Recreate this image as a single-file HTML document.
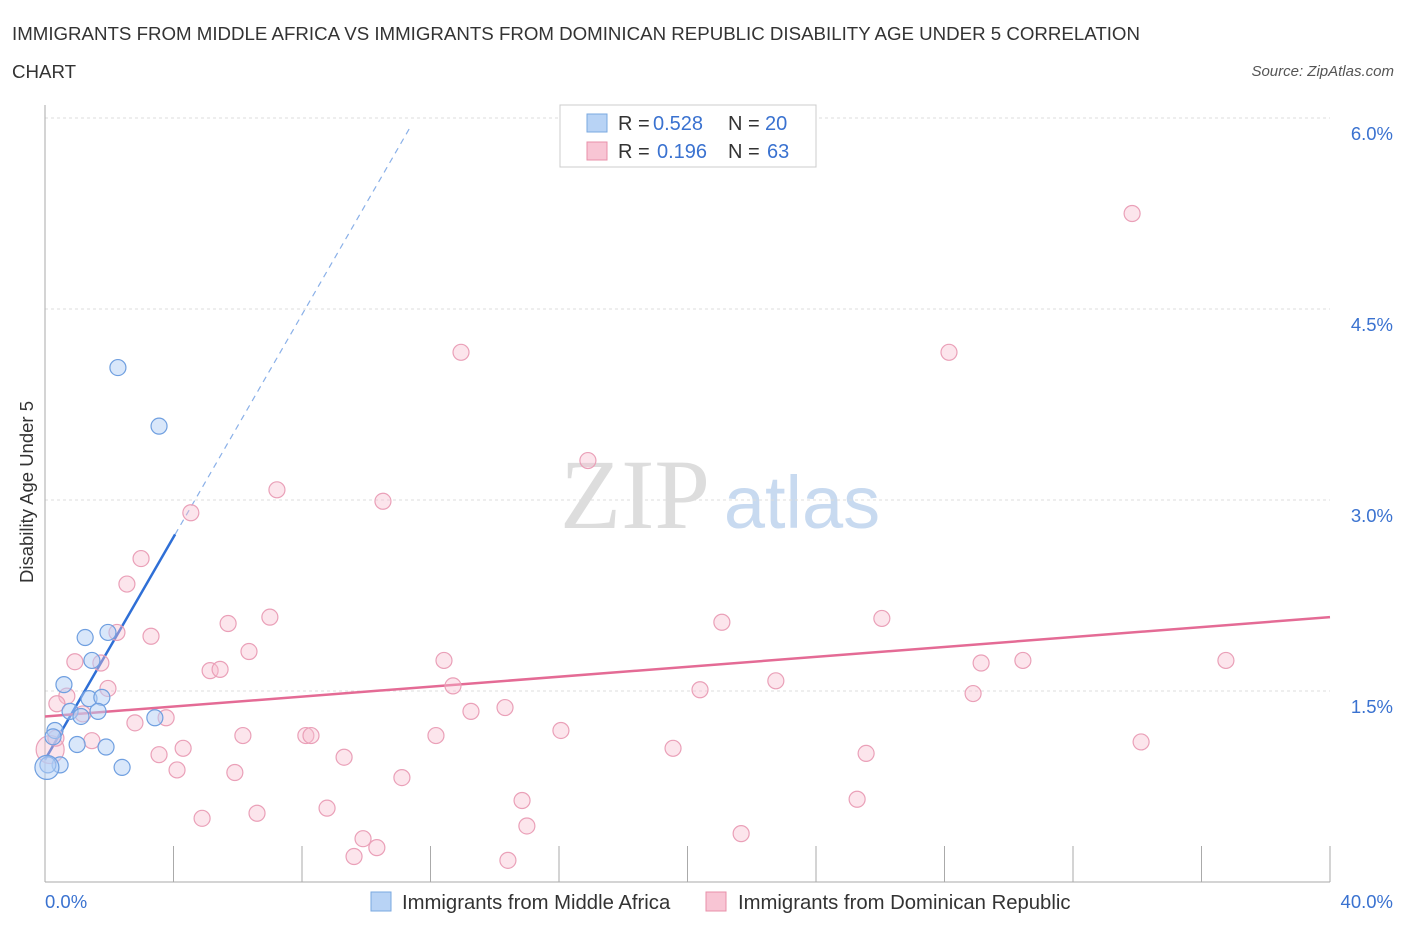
<!DOCTYPE html>
<html><head><meta charset="utf-8"><style>
body{margin:0;background:#fff;font-family:"Liberation Sans",sans-serif;}
svg text{font-family:"Liberation Sans",sans-serif;}
</style></head><body>
<svg id="chart" width="1406" height="930" xmlns="http://www.w3.org/2000/svg">
<text x="12" y="40" font-size="18.7" fill="#333">IMMIGRANTS FROM MIDDLE AFRICA VS IMMIGRANTS FROM DOMINICAN REPUBLIC DISABILITY AGE UNDER 5 CORRELATION</text>
<text x="12" y="78" font-size="18.7" fill="#333">CHART</text>
<text x="1394" y="76" font-size="15" fill="#555" font-style="italic" text-anchor="end">Source: ZipAtlas.com</text>
<text x="635" y="528" font-size="100" fill="#ddd" style="font-family:'Liberation Serif',serif" text-anchor="middle">ZIP</text>
<text x="802" y="528" font-size="74" fill="#c8daf0" text-anchor="middle">atlas</text>
<text transform="translate(33,492) rotate(-90)" font-size="18.5" fill="#333" text-anchor="middle">Disability Age Under 5</text>
<g id="grid"></g><g id="axes"></g><g id="lines"></g><g id="pts"></g>
<g>
<rect x="560" y="105" width="256" height="62" fill="#fff" stroke="#ccc"/>
<rect x="587" y="114" width="20" height="18" fill="#b8d3f5" stroke="#7aa8e0"/>
<text x="618" y="130" font-size="20" fill="#333">R = </text><text x="653" y="130" font-size="20" fill="#3a72d0">0.528</text>
<text x="728" y="130" font-size="20" fill="#333">N = </text><text x="765" y="130" font-size="20" fill="#3a72d0">20</text>
<rect x="587" y="142" width="20" height="18" fill="#f8c5d4" stroke="#e890aa"/>
<text x="618" y="158" font-size="20" fill="#333">R = </text><text x="657" y="158" font-size="20" fill="#3a72d0">0.196</text>
<text x="728" y="158" font-size="20" fill="#333">N = </text><text x="767" y="158" font-size="20" fill="#3a72d0">63</text>
</g>
<g>
<rect x="371" y="892" width="20" height="19" fill="#b8d3f5" stroke="#7aa8e0"/>
<text x="402" y="909" font-size="20.3" fill="#333">Immigrants from Middle Africa</text>
<rect x="706" y="892" width="20" height="19" fill="#f8c5d4" stroke="#e890aa"/>
<text x="738" y="909" font-size="20.3" fill="#333">Immigrants from Dominican Republic</text>
</g>
</svg>
<script>
const yTicks=[1.5,3.0,4.5,6.0];
const xTickLabels=["0.0%","40.0%"];
const blueX=[2.27,3.55,1.25,1.96,1.46,0.59,1.37,1.77,0.78,1.12,1.65,3.42,0.31,0.25,1.0,1.90,0.47,2.40,0.09,0.06];
const blueY=[4.04,3.58,1.92,1.96,1.74,1.55,1.44,1.45,1.34,1.30,1.34,1.29,1.19,1.14,1.08,1.06,0.92,0.90,0.92,0.90];
const pinkX=[33.84,12.95,28.14,16.90,7.22,10.52,4.54,2.99,2.55,21.07,26.05,7.00,5.70,2.24,3.30,6.35,0.93,1.74,12.42,29.14,30.44,36.76,5.14,5.45,1.96,0.68,12.70,20.39,22.75,28.89,0.37,1.18,3.77,13.26,14.32,2.80,16.06,6.16,8.12,8.28,12.17,1.46,34.12,4.30,3.55,19.55,25.56,9.31,4.11,5.91,11.11,8.78,14.85,25.28,4.89,6.60,15.00,21.67,9.90,10.33,9.62,14.41,0.16,0.34];
const pinkY=[5.25,4.16,4.16,3.31,3.08,2.99,2.90,2.54,2.34,2.04,2.07,2.08,2.03,1.96,1.93,1.81,1.73,1.72,1.74,1.72,1.74,1.74,1.66,1.67,1.52,1.46,1.54,1.51,1.58,1.48,1.40,1.32,1.29,1.34,1.37,1.25,1.19,1.15,1.15,1.15,1.15,1.11,1.10,1.05,1.00,1.05,1.01,0.98,0.88,0.86,0.82,0.58,0.64,0.65,0.50,0.54,0.44,0.38,0.34,0.27,0.20,0.17,1.04,1.13];
const blueTrend=[0.96,0.437]; // intercept, slope
const pinkTrend=[1.30,0.0195];
const NS="http://www.w3.org/2000/svg";
const X=v=>45+v*32.125, Y=v=>882-v*127.33;
function mk(p,t,a){const e=document.createElementNS(NS,t);for(const k in a)e.setAttribute(k,a[k]);document.getElementById(p).appendChild(e);return e;}
yTicks.forEach(t=>{const l=mk('grid','line',{x1:45,x2:1330,y1:Y(t),y2:Y(t),stroke:'#ddd','stroke-dasharray':'3,3'});


const tx=mk('grid','text',{x:1393,y:Y(t)+22,'font-size':18.5,fill:'#3a72d0','text-anchor':'end'});tx.textContent=t.toFixed(1)+'%';

});
const ax=mk('axes','line',{x1:45,x2:45,y1:105,y2:882,stroke:'#aaa'});


const bx=mk('axes','line',{x1:45,x2:1330,y1:882,y2:882,stroke:'#aaa'});


for(let i=1;i<=10;i++){const t=mk('axes','line',{x1:X(i*4),x2:X(i*4),y1:846,y2:882,stroke:'#aaa'});

}
[[0,'start',45],[1,'end',1393]].forEach(([i,a,x])=>{const t=mk('axes','text',{x:x,y:908,'font-size':18.5,fill:'#3a72d0','text-anchor':a});t.textContent=xTickLabels[i];

});
const bl=mk('lines','line',{x1:X(0),y1:Y(blueTrend[0]),x2:X(4.05),y2:Y(blueTrend[0]+blueTrend[1]*4.05),stroke:'#2f6fd6','stroke-width':2.5});


const bd=mk('lines','line',{x1:X(4.05),y1:Y(blueTrend[0]+blueTrend[1]*4.05),x2:X(11.4),y2:Y(blueTrend[0]+blueTrend[1]*11.4),stroke:'#8ab0e8','stroke-width':1.2,'stroke-dasharray':'6,5'});


const pl=mk('lines','line',{x1:X(0),y1:Y(pinkTrend[0]),x2:X(40),y2:Y(pinkTrend[0]+pinkTrend[1]*40),stroke:'#e46b95','stroke-width':2.5});


pinkX.forEach((x,i)=>{const c=mk('pts','circle',{cx:X(x),cy:Y(pinkY[i]),r:i==62?14:8,fill:'rgba(248,190,208,0.4)',stroke:'#eaa0b8','stroke-width':1.2});

});
blueX.forEach((x,i)=>{const c=mk('pts','circle',{cx:X(x),cy:Y(blueY[i]),r:i==19?12:8,fill:'rgba(180,208,245,0.5)',stroke:'#6f9fe0','stroke-width':1.2});

});
</script>
</body></html>
